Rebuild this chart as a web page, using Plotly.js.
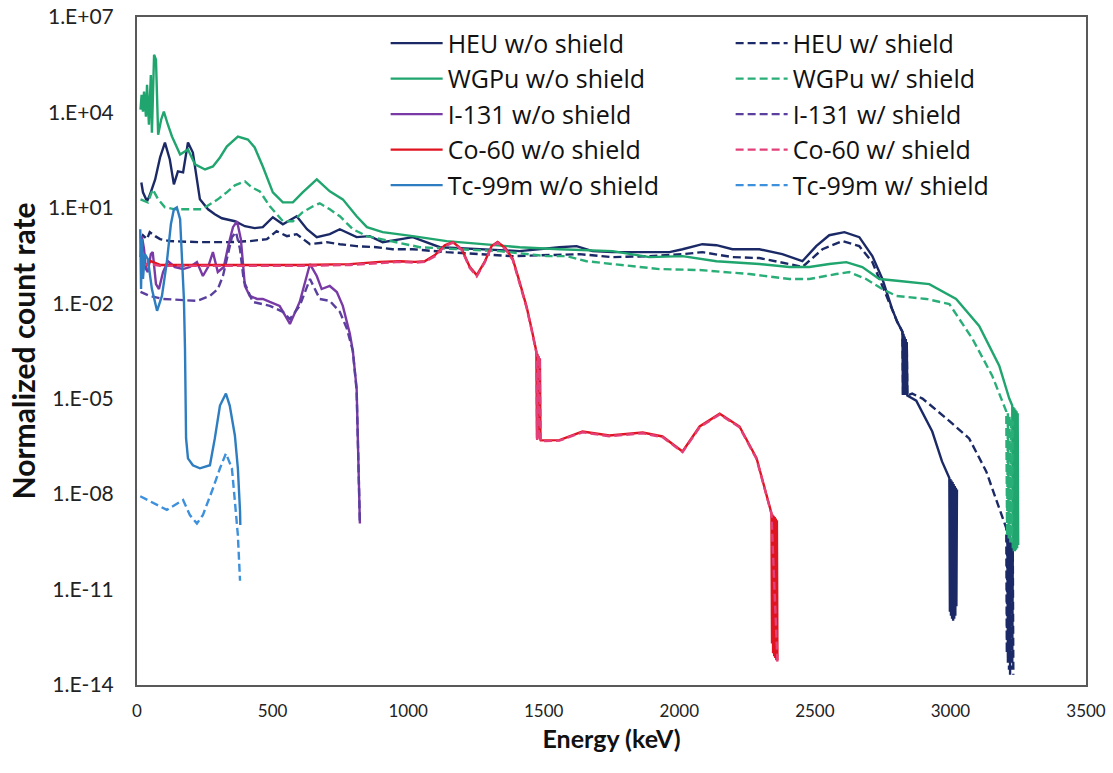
<!DOCTYPE html>
<html>
<head>
<meta charset="utf-8">
<script src="https://cdn.plot.ly/plotly-3.0.1.min.js"></script>
<style>html,body{margin:0;padding:0;background:#fff;}#chart{width:1113px;height:773px;}</style>
</head>
<body>
<div id="chart"></div>
<script>
// ---- Data (Energy in keV, normalized count rate) ----
const heuNoShieldE = [16,22,37,47,67,85,103,121,136,151,170,188,206,232,262,287,313,361,398,434,464,501,538,589,627,663,711,748,810,858,906,969,1017,1117,1264,1411,1558,1621,1680,1754,1890,1964,2012,2085,2137,2196,2295,2380,2454,2505,2553,2609,2664,2712,2749,2785,2804,2823,2825,2827,2829,2831,2833,2835,2837,2839,2841,2874,2933,2969,2996,2998,3000,3002,3004,3006,3008,3010,3012,3014,3016,3018,3020,3022,3024];
const heuNoShieldRate = [63,30.8,16,24.8,78.5,384,1130,332,54.7,140,130,1130,550,18.5,9.0,6.3,4.7,3.8,2.65,2.3,2.47,5.07,3.05,5.45,2.13,1.2,1.49,2.13,1.2,1.29,0.835,1.04,1.2,0.58,0.50,0.436,0.58,0.625,0.436,0.405,0.405,0.405,0.50,0.72,0.67,0.50,0.50,0.35,0.21,0.625,1.38,1.72,1.2,0.304,0.058,6.65e-3,2.6e-3,1.27e-3,1.3e-5,1.1e-3,1.3e-5,9e-4,1.3e-5,7.5e-4,1.3e-5,6e-4,1.26e-5,8.7e-6,9.3e-7,1.07e-7,3.2e-8,2e-12,3e-8,1.5e-12,2.7e-8,1.2e-12,2.4e-8,1.05e-12,2.1e-8,1.2e-12,1.8e-8,1.5e-12,1.6e-8,3e-12,1.4e-8];

const heuShieldE = [16,22,37,47,67,85,121,232,342,416,479,515,553,589,638,700,748,810,884,943,1017,1142,1386,1570,1632,1754,1890,2012,2085,2196,2295,2406,2454,2528,2602,2664,2712,2749,2785,2804,2823,2825,2827,2829,2831,2833,2835,2837,2839,2841,2859,2897,2985,3069,3132,3180,3206,3208,3210,3212,3214,3216,3218,3220,3222,3224,3226,3228,3230,3232];
const heuShieldRate = [1.04,1.38,1.04,1.72,1.29,1.04,0.90,0.835,0.835,0.90,1.04,1.85,1.29,1.49,0.72,0.835,0.72,0.625,0.58,0.50,0.50,0.405,0.304,0.35,0.35,0.283,0.304,0.35,0.405,0.283,0.264,0.171,0.138,0.50,0.90,0.625,0.197,0.035,6.65e-3,2.6e-3,1.27e-3,1.3e-5,1.1e-3,1.3e-5,9e-4,1.3e-5,7.5e-4,1.3e-5,6e-4,1.26e-5,1.45e-5,1.01e-5,2.4e-6,5.65e-7,5.2e-8,3.6e-9,8.5e-10,1e-13,7e-10,5e-14,6e-10,3e-14,5e-10,2.1e-14,4e-10,3e-14,3e-10,5e-14,2e-10,2.1e-14];

const wgpuNoShieldE = [13,17,22,26,33,37,44,51,55,63,70,78,89,99,114,129,159,188,214,251,280,306,331,372,409,434,464,501,538,575,611,663,711,759,810,848,906,969,1017,1142,1264,1411,1558,1754,1890,2012,2137,2295,2406,2480,2553,2616,2675,2738,2812,2922,3021,3106,3180,3217,3228,3230,3232,3234,3236,3238,3240,3242,3244,3246,3248,3250];
const wgpuNoShieldRate = [1.22e4,3.6e4,1.06e4,4.5e4,7.4e3,7.4e4,4.1e3,1.5e5,2.3e3,6.5e5,4.5e5,2.0e3,5.9e3,1.06e4,4.1e3,1.75e3,477,682,232,161,200,384,847,1.75e3,1.4e3,789,200,30.8,14.9,14.9,30.8,78.5,33,18.5,5.45,2.47,1.72,1.49,1.29,0.90,0.72,0.58,0.50,0.436,0.283,0.304,0.21,0.171,0.138,0.138,0.171,0.197,0.138,0.058,0.05,0.04,0.0137,1.95e-3,1.1e-4,1.01e-5,6.1e-6,2e-10,5.5e-6,1.6e-10,5e-6,1.6e-10,4.5e-6,1.8e-10,4e-6,2e-10,3.5e-6,2.5e-10];

const wgpuShieldE = [13,40,58,78,103,140,195,239,269,298,331,361,398,423,453,490,538,575,611,649,674,711,748,796,848,932,1043,1190,1337,1511,1585,1658,1754,1927,2075,2259,2406,2480,2579,2627,2689,2749,2801,2911,2996,3081,3154,3206,3209,3212,3215,3218,3221,3224,3227,3230];
const wgpuShieldRate = [18.5,14.9,38,18.5,10.4,9.0,9.0,9.0,12.9,18.5,30.8,51,68,44,33,11.2,3.8,3.8,7.3,11.2,13.9,9.0,5.45,2.13,1.29,0.90,0.58,0.50,0.436,0.304,0.304,0.21,0.171,0.119,0.111,0.083,0.058,0.058,0.083,0.096,0.058,0.028,0.017,0.0137,9.5e-3,7.7e-4,5.3e-5,4e-6,5e-10,3.5e-6,4e-10,3e-6,3e-10,2.5e-6,3e-10,2e-6];

const i131NoShieldE = [13,18,26,33,40,51,58,70,81,96,114,140,170,195,221,243,262,280,298,320,338,354,369,383,398,416,443,464,490,526,564,600,638,663,681,711,737,759,785,796,810,815,818,822];
const i131NoShieldRate = [0.283,1.29,0.50,0.119,0.096,0.35,0.405,0.04,0.028,0.096,0.21,0.138,0.119,0.138,0.197,0.072,0.138,0.405,0.096,0.138,0.72,2.47,3.8,1.04,0.035,0.017,0.0137,0.0137,0.011,8.3e-3,2.25e-3,0.011,0.171,0.072,0.028,0.035,0.0227,8.3e-3,1.1e-3,3.2e-4,2.1e-5,5.65e-7,1.5e-8,1.2e-9];

const i131ShieldE = [13,47,96,159,221,269,298,317,335,350,365,380,394,427,490,538,564,600,638,674,711,748,774,796,810,815,818,822];
const i131ShieldRate = [0.0227,0.017,0.0137,0.0127,0.0119,0.017,0.028,0.072,0.35,1.2,1.72,0.50,0.05,0.011,8.3e-3,5.4e-3,3.2e-3,8.3e-3,0.058,0.0137,0.0119,5.4e-3,1.6e-3,3.2e-4,1.8e-5,5.65e-7,1.5e-8,1.2e-9];

const co60NoShieldE = [15,31,51,85,232,416,601,785,895,969,1025,1061,1099,1135,1165,1198,1227,1253,1282,1308,1330,1359,1386,1411,1437,1455,1473,1475,1477,1479,1481,1484,1486,1488,1489,1558,1643,1742,1865,1938,2012,2075,2149,2222,2285,2340,2342,2344,2346,2348,2350,2352,2354,2356,2358,2360,2362];
const co60NoShieldRate = [0.2,0.15,0.21,0.16,0.16,0.16,0.16,0.17,0.2,0.21,0.2,0.21,0.33,0.67,0.84,0.5,0.14,0.077,0.2,0.63,0.84,0.54,0.245,0.047,0.0077,0.0016,3e-4,5.6e-7,2.6e-4,5.6e-7,2.2e-4,5.6e-7,1.8e-4,5.2e-7,4.9e-7,5e-7,9.3e-7,7e-7,8.7e-7,6.5e-7,2.2e-7,1.34e-6,3.4e-6,1.34e-6,1.34e-7,2.5e-9,2e-13,2.3e-9,1e-13,2.1e-9,8e-14,1.9e-9,7e-14,1.7e-9,6e-14,1.5e-9,6e-14];

const co60ShieldE = [15,51,85,232,416,601,785,895,969,1025,1061,1099,1135,1165,1198,1227,1253,1282,1308,1330,1359,1386,1411,1437,1455,1473,1476,1479,1482,1485,1489,1558,1643,1742,1865,1938,2012,2075,2149,2222,2285,2340,2362];
const co60ShieldRate = [0.16,0.17,0.15,0.15,0.15,0.15,0.16,0.18,0.2,0.19,0.2,0.3,0.62,0.8,0.47,0.13,0.07,0.19,0.6,0.8,0.5,0.23,0.044,0.0072,0.0015,2.8e-4,5e-7,2.4e-4,5e-7,2e-4,4.6e-7,4.8e-7,8.8e-7,6.6e-7,8.2e-7,6.2e-7,2.1e-7,1.27e-6,3.2e-6,1.27e-6,1.27e-7,2.4e-9,5e-14];

const tcNoShieldE = [12,15,18,22,29,40,55,74,92,110,125,136,147,159,166,173,177,179,181,188,206,232,269,287,306,328,342,361,372,380,381];
const tcNoShieldRate = [2.13,0.028,1.04,0.058,0.35,0.245,0.028,5.8e-3,0.017,0.197,3.05,9.0,10.4,4.4,0.245,0.0137,3.7e-4,1.01e-5,5.65e-7,1.33e-7,8.1e-8,6.5e-8,8.1e-8,5.65e-7,6.1e-6,1.45e-5,6.1e-6,7e-7,6.5e-8,2.9e-9,1.07e-9];

const tcShieldE = [12,47,110,170,195,221,243,280,306,328,350,361,372,380];
const tcShieldRate = [8.6e-9,6e-9,3.2e-9,6.5e-9,2.2e-9,1.2e-9,2.2e-9,1.5e-8,6.5e-8,1.9e-7,6.5e-8,6e-9,5.1e-10,1.9e-11];

const seriesNames = ["HEU w/o shield","HEU w/ shield","WGPu w/o shield","WGPu w/ shield","I-131 w/o shield","I-131 w/ shield","Co-60 w/o shield","Co-60 w/ shield","Tc-99m w/o shield","Tc-99m w/ shield"];
const yTickVals = [1e-14,1e-11,1e-8,1e-5,1e-2,1e1,1e4,1e7];
const yTickText = ["1.E-14","1.E-11","1.E-08","1.E-05","1.E-02","1.E+01","1.E+04","1.E+07"];
const xTickVals = [0,500,1000,1500,2000,2500,3000,3500];

const colors = {
  heu: "#1b2a66", wgpu: "#1fa56d", wgpuD: "#2aae78",
  i131: "#7a3aa6", i131D: "#5a3f9e",
  co: "#e01420", coD: "#e3407a",
  tc: "#2e7dc0", tcD: "#3d90dc"
};
const DASH = "8px,4px";

function tr(x, y, i, color, dashed) {
  return {
    type: "scatter", mode: "lines", x: x, y: y, name: seriesNames[i],
    legendrank: i + 1,
    line: {color: color, width: 2.4, dash: dashed ? DASH : "solid"},
    hoverinfo: "skip"
  };
}

const traces = [
  tr(heuNoShieldE, heuNoShieldRate, 0, colors.heu, false),
  tr(heuShieldE, heuShieldRate, 1, colors.heu, true),
  tr(wgpuNoShieldE, wgpuNoShieldRate, 2, colors.wgpu, false),
  tr(wgpuShieldE, wgpuShieldRate, 3, colors.wgpuD, true),
  tr(i131NoShieldE, i131NoShieldRate, 4, colors.i131, false),
  tr(i131ShieldE, i131ShieldRate, 5, colors.i131D, true),
  tr(co60NoShieldE, co60NoShieldRate, 6, colors.co, false),
  tr(co60ShieldE, co60ShieldRate, 7, colors.coD, true),
  tr(tcNoShieldE, tcNoShieldRate, 8, colors.tc, false),
  tr(tcShieldE, tcShieldRate, 9, colors.tcD, true)
];

const FONT = "Lato, 'Open Sans', 'Liberation Sans', sans-serif";
const LEGFONT = "'Open Sans', Lato, sans-serif";

const layout = {
  width: 1113, height: 773,
  margin: {l: 137, r: 27, t: 17, b: 88},
  paper_bgcolor: "#ffffff", plot_bgcolor: "#ffffff",
  font: {family: FONT, color: "#222"},
  showlegend: true,
  legend: {
    orientation: "h", x: 0.262, y: 0.995, xanchor: "left", yanchor: "top",
    bgcolor: "rgba(0,0,0,0)", font: {size: 25, family: LEGFONT, color: "#111"},
    itemwidth: 52, entrywidth: 278, entrywidthmode: "pixels",
    traceorder: "normal"
  },
  xaxis: {
    range: [0, 3500], tickvals: xTickVals, ticks: "",
    showgrid: false, zeroline: false,
    showline: true, mirror: true, linecolor: "#595959", linewidth: 2,
    ticklabeloverflow: "allow", ticklabelstandoff: 10,
    tickfont: {size: 17, family: FONT, color: "#222"},
    title: {text: "<b>Energy (keV)</b>", font: {size: 25, family: FONT, color: "#111"}, standoff: 10}
  },
  yaxis: {
    type: "log", range: [-14, 7], tickvals: yTickVals, ticktext: yTickText, ticks: "",
    showgrid: false, zeroline: false,
    showline: true, mirror: true, linecolor: "#595959", linewidth: 2,
    ticklabelstandoff: 17,
    tickfont: {size: 21, family: FONT, color: "#222"},
    title: {text: "<b>Normalized count rate</b>", font: {size: 30, family: FONT, color: "#111"}, standoff: 3}
  }
};

Plotly.newPlot("chart", traces, layout, {displayModeBar: false, staticPlot: true});
</script>
</body>
</html>
